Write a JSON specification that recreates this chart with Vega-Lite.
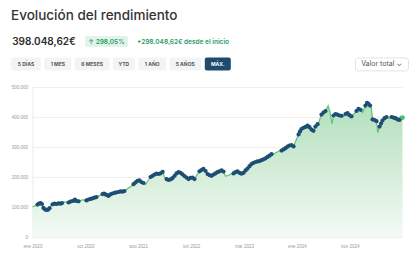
{
  "$schema": "https://vega.github.io/schema/vega-lite/v6.json",
  "padding": {"left": 11, "top": 8, "right": 0, "bottom": 0},
  "background": "white",
  "title": {"text": "Evolución del rendimiento", "anchor": "start", "fontSize": 13.5, "fontWeight": 500, "color": "#333333", "offset": 14},
  "datasets": {
    "rendimiento": [
      {"fecha": "2020-01-01", "valor": 100000},
      {"fecha": "2020-01-29", "valor": 108000},
      {"fecha": "2020-02-06", "valor": 111000},
      {"fecha": "2020-02-15", "valor": 113000},
      {"fecha": "2020-02-23", "valor": 110000},
      {"fecha": "2020-03-02", "valor": 97000},
      {"fecha": "2020-03-11", "valor": 92000},
      {"fecha": "2020-03-19", "valor": 90000},
      {"fecha": "2020-03-28", "valor": 91000},
      {"fecha": "2020-04-05", "valor": 96000},
      {"fecha": "2020-04-13", "valor": 104000},
      {"fecha": "2020-04-22", "valor": 109000},
      {"fecha": "2020-05-03", "valor": 111000},
      {"fecha": "2020-05-14", "valor": 110000},
      {"fecha": "2020-05-25", "valor": 112000},
      {"fecha": "2020-06-05", "valor": 111000},
      {"fecha": "2020-06-14", "valor": 113000},
      {"fecha": "2020-06-28", "valor": 117000},
      {"fecha": "2020-07-20", "valor": 115000},
      {"fecha": "2020-07-31", "valor": 118000},
      {"fecha": "2020-08-11", "valor": 120000},
      {"fecha": "2020-08-20", "valor": 121000},
      {"fecha": "2020-08-25", "valor": 125000},
      {"fecha": "2020-09-03", "valor": 120000},
      {"fecha": "2020-09-14", "valor": 119000},
      {"fecha": "2020-10-06", "valor": 124000},
      {"fecha": "2020-10-28", "valor": 122000},
      {"fecha": "2020-11-09", "valor": 125000},
      {"fecha": "2020-11-20", "valor": 127000},
      {"fecha": "2020-12-01", "valor": 129000},
      {"fecha": "2020-12-12", "valor": 131000},
      {"fecha": "2020-12-23", "valor": 133000},
      {"fecha": "2021-01-09", "valor": 138000},
      {"fecha": "2021-01-26", "valor": 143000},
      {"fecha": "2021-02-03", "valor": 145000},
      {"fecha": "2021-02-11", "valor": 142000},
      {"fecha": "2021-02-20", "valor": 140000},
      {"fecha": "2021-02-28", "valor": 137000},
      {"fecha": "2021-03-11", "valor": 142000},
      {"fecha": "2021-03-22", "valor": 145000},
      {"fecha": "2021-04-03", "valor": 147000},
      {"fecha": "2021-04-14", "valor": 149000},
      {"fecha": "2021-04-25", "valor": 150000},
      {"fecha": "2021-05-06", "valor": 152000},
      {"fecha": "2021-05-17", "valor": 151000},
      {"fecha": "2021-05-28", "valor": 153000},
      {"fecha": "2021-06-20", "valor": 163000},
      {"fecha": "2021-07-07", "valor": 170000},
      {"fecha": "2021-07-18", "valor": 176000},
      {"fecha": "2021-07-29", "valor": 182000},
      {"fecha": "2021-08-09", "valor": 187000},
      {"fecha": "2021-08-20", "valor": 189000},
      {"fecha": "2021-08-31", "valor": 183000},
      {"fecha": "2021-09-12", "valor": 180000},
      {"fecha": "2021-09-23", "valor": 175000},
      {"fecha": "2021-10-09", "valor": 190000},
      {"fecha": "2021-10-21", "valor": 200000},
      {"fecha": "2021-11-01", "valor": 204000},
      {"fecha": "2021-11-12", "valor": 208000},
      {"fecha": "2021-11-23", "valor": 211000},
      {"fecha": "2021-12-04", "valor": 210000},
      {"fecha": "2021-12-15", "valor": 212000},
      {"fecha": "2021-12-27", "valor": 217000},
      {"fecha": "2022-01-07", "valor": 200000},
      {"fecha": "2022-01-18", "valor": 193000},
      {"fecha": "2022-01-29", "valor": 190000},
      {"fecha": "2022-02-09", "valor": 192000},
      {"fecha": "2022-02-20", "valor": 196000},
      {"fecha": "2022-03-04", "valor": 204000},
      {"fecha": "2022-03-15", "valor": 212000},
      {"fecha": "2022-03-26", "valor": 216000},
      {"fecha": "2022-04-06", "valor": 214000},
      {"fecha": "2022-04-17", "valor": 209000},
      {"fecha": "2022-04-28", "valor": 203000},
      {"fecha": "2022-05-10", "valor": 198000},
      {"fecha": "2022-05-21", "valor": 193000},
      {"fecha": "2022-06-01", "valor": 197000},
      {"fecha": "2022-06-12", "valor": 198000},
      {"fecha": "2022-06-23", "valor": 193000},
      {"fecha": "2022-07-10", "valor": 210000},
      {"fecha": "2022-07-21", "valor": 219000},
      {"fecha": "2022-08-01", "valor": 223000},
      {"fecha": "2022-08-12", "valor": 227000},
      {"fecha": "2022-08-24", "valor": 220000},
      {"fecha": "2022-09-04", "valor": 210000},
      {"fecha": "2022-09-15", "valor": 206000},
      {"fecha": "2022-09-26", "valor": 204000},
      {"fecha": "2022-10-07", "valor": 208000},
      {"fecha": "2022-10-18", "valor": 212000},
      {"fecha": "2022-10-29", "valor": 216000},
      {"fecha": "2022-11-10", "valor": 219000},
      {"fecha": "2022-11-21", "valor": 222000},
      {"fecha": "2022-12-02", "valor": 218000},
      {"fecha": "2022-12-13", "valor": 203000},
      {"fecha": "2022-12-30", "valor": 205000},
      {"fecha": "2023-01-16", "valor": 211000},
      {"fecha": "2023-01-27", "valor": 212000},
      {"fecha": "2023-02-07", "valor": 216000},
      {"fecha": "2023-02-18", "valor": 219000},
      {"fecha": "2023-03-01", "valor": 214000},
      {"fecha": "2023-03-12", "valor": 211000},
      {"fecha": "2023-03-24", "valor": 214000},
      {"fecha": "2023-04-04", "valor": 222000},
      {"fecha": "2023-04-15", "valor": 228000},
      {"fecha": "2023-04-26", "valor": 236000},
      {"fecha": "2023-05-07", "valor": 243000},
      {"fecha": "2023-05-18", "valor": 247000},
      {"fecha": "2023-05-30", "valor": 250000},
      {"fecha": "2023-06-10", "valor": 252000},
      {"fecha": "2023-06-21", "valor": 253000},
      {"fecha": "2023-07-02", "valor": 256000},
      {"fecha": "2023-07-13", "valor": 259000},
      {"fecha": "2023-07-24", "valor": 262000},
      {"fecha": "2023-08-05", "valor": 267000},
      {"fecha": "2023-08-16", "valor": 271000},
      {"fecha": "2023-08-27", "valor": 276000},
      {"fecha": "2023-09-18", "valor": 280000},
      {"fecha": "2023-10-05", "valor": 286000},
      {"fecha": "2023-10-22", "valor": 288000},
      {"fecha": "2023-11-02", "valor": 292000},
      {"fecha": "2023-11-13", "valor": 296000},
      {"fecha": "2023-11-24", "valor": 301000},
      {"fecha": "2023-12-05", "valor": 305000},
      {"fecha": "2023-12-16", "valor": 306000},
      {"fecha": "2023-12-28", "valor": 302000},
      {"fecha": "2024-01-08", "valor": 318000},
      {"fecha": "2024-01-25", "valor": 342000},
      {"fecha": "2024-02-02", "valor": 352000},
      {"fecha": "2024-02-10", "valor": 360000},
      {"fecha": "2024-02-21", "valor": 364000},
      {"fecha": "2024-03-04", "valor": 367000},
      {"fecha": "2024-03-15", "valor": 371000},
      {"fecha": "2024-03-26", "valor": 366000},
      {"fecha": "2024-04-06", "valor": 358000},
      {"fecha": "2024-04-17", "valor": 354000},
      {"fecha": "2024-04-28", "valor": 368000},
      {"fecha": "2024-05-10", "valor": 376000},
      {"fecha": "2024-05-18", "valor": 385000},
      {"fecha": "2024-06-01", "valor": 408000},
      {"fecha": "2024-06-12", "valor": 415000},
      {"fecha": "2024-06-23", "valor": 420000},
      {"fecha": "2024-07-08", "valor": 437000},
      {"fecha": "2024-07-18", "valor": 418000},
      {"fecha": "2024-07-29", "valor": 378000},
      {"fecha": "2024-08-07", "valor": 405000},
      {"fecha": "2024-08-18", "valor": 410000},
      {"fecha": "2024-08-29", "valor": 408000},
      {"fecha": "2024-09-09", "valor": 405000},
      {"fecha": "2024-09-21", "valor": 404000},
      {"fecha": "2024-10-04", "valor": 402000},
      {"fecha": "2024-10-13", "valor": 410000},
      {"fecha": "2024-10-24", "valor": 413000},
      {"fecha": "2024-11-04", "valor": 406000},
      {"fecha": "2024-11-15", "valor": 402000},
      {"fecha": "2024-12-02", "valor": 412000},
      {"fecha": "2024-12-13", "valor": 420000},
      {"fecha": "2024-12-24", "valor": 427000},
      {"fecha": "2025-01-05", "valor": 424000},
      {"fecha": "2025-01-16", "valor": 415000},
      {"fecha": "2025-02-01", "valor": 438000},
      {"fecha": "2025-02-10", "valor": 447000},
      {"fecha": "2025-02-18", "valor": 444000},
      {"fecha": "2025-02-27", "valor": 438000},
      {"fecha": "2025-03-06", "valor": 430000},
      {"fecha": "2025-03-13", "valor": 392000},
      {"fecha": "2025-03-24", "valor": 390000},
      {"fecha": "2025-04-04", "valor": 386000},
      {"fecha": "2025-04-11", "valor": 348000},
      {"fecha": "2025-04-21", "valor": 368000},
      {"fecha": "2025-04-29", "valor": 378000},
      {"fecha": "2025-05-07", "valor": 388000},
      {"fecha": "2025-05-19", "valor": 396000},
      {"fecha": "2025-05-30", "valor": 400000},
      {"fecha": "2025-06-15", "valor": 396000},
      {"fecha": "2025-06-27", "valor": 400000},
      {"fecha": "2025-07-08", "valor": 398000},
      {"fecha": "2025-07-19", "valor": 396000},
      {"fecha": "2025-07-30", "valor": 392000},
      {"fecha": "2025-08-10", "valor": 390000},
      {"fecha": "2025-08-21", "valor": 396000},
      {"fecha": "2025-08-27", "valor": 398048.62}
    ]
  },
  "vconcat": [
    {
      "spacing": 9.4,
      "vconcat": [
        {
          "spacing": 8,
          "hconcat": [
            {"width": 66, "height": 11, "data": {"values": [{"t": "398.048,62€"}]}, "mark": {"type": "text", "fontSize": 10, "fontWeight": 600, "color": "#2b2b2b"}, "encoding": {"text": {"field": "t"}}},
            {"width": 43, "height": 11, "view": {"fill": "#e1f4e9", "stroke": null, "cornerRadius": 2}, "data": {"values": [{"t": "↑ 298,05%"}]}, "mark": {"type": "text", "fontSize": 6.5, "fontWeight": 600, "color": "#2e9b68"}, "encoding": {"text": {"field": "t"}}},
            {"width": 92, "height": 11, "data": {"values": [{"t": "+298.048,62€ desde el inicio"}]}, "mark": {"type": "text", "fontSize": 6.5, "fontWeight": 600, "color": "#2e9b68"}, "encoding": {"text": {"field": "t"}}}
          ]
        },
        {
          "spacing": 123,
          "hconcat": [
            {
              "spacing": 3.3,
              "hconcat": [
                {"width": 30, "height": 13, "view": {"fill": "#f3f4f6", "stroke": null, "cornerRadius": 2}, "data": {"values": [{"rango": "5 DÍAS"}]}, "mark": {"type": "text", "fontSize": 5, "fontWeight": 700, "color": "#555555"}, "encoding": {"text": {"field": "rango"}}},
                {"width": 27, "height": 13, "view": {"fill": "#f3f4f6", "stroke": null, "cornerRadius": 2}, "data": {"values": [{"rango": "1 MES"}]}, "mark": {"type": "text", "fontSize": 5, "fontWeight": 700, "color": "#555555"}, "encoding": {"text": {"field": "rango"}}},
                {"width": 35, "height": 13, "view": {"fill": "#f3f4f6", "stroke": null, "cornerRadius": 2}, "data": {"values": [{"rango": "6 MESES"}]}, "mark": {"type": "text", "fontSize": 5, "fontWeight": 700, "color": "#555555"}, "encoding": {"text": {"field": "rango"}}},
                {"width": 22, "height": 13, "view": {"fill": "#f3f4f6", "stroke": null, "cornerRadius": 2}, "data": {"values": [{"rango": "YTD"}]}, "mark": {"type": "text", "fontSize": 5, "fontWeight": 700, "color": "#555555"}, "encoding": {"text": {"field": "rango"}}},
                {"width": 28, "height": 13, "view": {"fill": "#f3f4f6", "stroke": null, "cornerRadius": 2}, "data": {"values": [{"rango": "1 AÑO"}]}, "mark": {"type": "text", "fontSize": 5, "fontWeight": 700, "color": "#555555"}, "encoding": {"text": {"field": "rango"}}},
                {"width": 31.5, "height": 13, "view": {"fill": "#f3f4f6", "stroke": null, "cornerRadius": 2}, "data": {"values": [{"rango": "5 AÑOS"}]}, "mark": {"type": "text", "fontSize": 5, "fontWeight": 700, "color": "#555555"}, "encoding": {"text": {"field": "rango"}}},
                {"width": 26, "height": 13, "view": {"fill": "#1f4b6e", "stroke": null, "cornerRadius": 2}, "data": {"values": [{"rango": "MÁX."}]}, "mark": {"type": "text", "fontSize": 5, "fontWeight": 700, "color": "#ffffff"}, "encoding": {"text": {"field": "rango"}}}
              ]
            },
            {"width": 53, "height": 13, "view": {"fill": "#ffffff", "stroke": "#e3e3e3", "cornerRadius": 3}, "data": {"values": [{"t": "Valor total  ⌄"}]}, "mark": {"type": "text", "fontSize": 7, "color": "#555555"}, "encoding": {"text": {"field": "t"}}}
          ]
        }
      ]
    },
    {
      "spacing": -1.5,
      "hconcat": [
        {"width": 1, "height": 150, "data": {"values": []}, "mark": "point"},
        {
          "width": 370,
          "height": 150,
          "data": {"name": "rendimiento"},
          "encoding": {
            "x": {
              "field": "fecha", "type": "temporal",
              "scale": {"type": "utc", "nice": false, "domain": [{"year": 2020, "month": 1, "date": 1, "utc": true}, {"year": 2025, "month": 8, "date": 27, "utc": true}]},
              "axis": {
                "title": null, "grid": false, "domain": false, "ticks": false, "labelPadding": 6, "labelFont": "Liberation Sans", "labelFontSize": 4.5, "labelColor": "#9a9a9a", "labelFlush": false, "labelOverlap": false,
                "values": [
                  {"year": 2020, "month": 1, "date": 1, "utc": true},
                  {"year": 2020, "month": 10, "date": 22, "utc": true},
                  {"year": 2021, "month": 8, "date": 13, "utc": true},
                  {"year": 2022, "month": 6, "date": 4, "utc": true},
                  {"year": 2023, "month": 3, "date": 26, "utc": true},
                  {"year": 2024, "month": 1, "date": 15, "utc": true},
                  {"year": 2024, "month": 11, "date": 5, "utc": true}
                ],
                "labelExpr": "['ene','feb','mar','abr','may','jun','jul','ago','sep','oct','nov','dic'][utcmonth(datum.value)] + ' ' + utcyear(datum.value)"
              }
            },
            "y": {
              "field": "valor", "type": "quantitative",
              "scale": {"domain": [0, 500000], "nice": false},
              "axis": {
                "title": null, "values": [0, 100000, 200000, 300000, 400000, 500000], "ticks": false, "labelPadding": 5, "labelFont": "Liberation Sans", "labelFontSize": 4.5, "labelColor": "#9a9a9a",
                "domain": true, "domainColor": "#ececec", "grid": true, "gridColor": "#efefef",
                "labelExpr": "replace(format(datum.value, ','), ',', '.')"
              }
            }
          },
          "layer": [
            {"mark": {"type": "area", "color": {"gradient": "linear", "x1": 0, "y1": 1, "x2": 0, "y2": 0, "stops": [{"offset": 0, "color": "#f3faf4"}, {"offset": 1, "color": "#b3dfbd"}]}}},
            {"mark": {"type": "line", "color": "#5cc46f", "strokeWidth": 1.2}},
            {
              "transform": [{"filter": "indexof(['2020-01-01','2020-04-13','2020-06-28','2020-10-06','2021-01-09','2021-06-20','2021-07-07','2021-09-23','2021-10-09','2022-01-07','2022-07-10','2022-12-13','2022-12-30','2023-01-16','2023-09-18','2023-10-05','2024-01-08','2024-05-18','2024-07-08','2024-07-18','2024-07-29','2024-10-04','2024-12-02','2025-01-16','2025-03-06','2025-04-11','2025-06-15','2025-08-27'], utcFormat(toDate(datum.fecha), '%Y-%m-%d')) < 0"}],
              "mark": {"type": "circle", "size": 18, "color": "#1d4e74", "opacity": 1}
            },
            {
              "transform": [{"filter": "utcFormat(toDate(datum.fecha), '%Y-%m-%d') == '2025-08-27'"}],
              "mark": {"type": "circle", "size": 22, "color": "#4cc26a", "opacity": 1}
            }
          ]
        }
      ]
    }
  ],
  "spacing": 13,
  "config": {"font": "Inter", "view": {"stroke": null}}
}
